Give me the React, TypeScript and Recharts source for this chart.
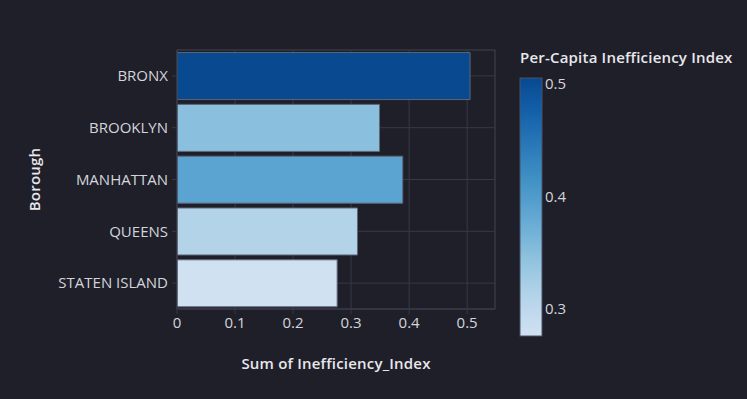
import { BarChart, Bar, XAxis, YAxis, CartesianGrid, Cell, ReferenceArea } from "recharts";

const boroughs = ["BRONX", "BROOKLYN", "MANHATTAN", "QUEENS", "STATEN ISLAND"];
const inefficiency = [0.505, 0.349, 0.389, 0.311, 0.276];
const xTicks = [0, 0.1, 0.2, 0.3, 0.4, 0.5];
const colorbarTicks = [0.3, 0.4, 0.5];

const data = boroughs.map((borough, i) => ({ borough, value: inefficiency[i] }));

// plotly "Blues" sequential scale
const blues = [
  [247, 251, 255],
  [222, 235, 247],
  [198, 219, 239],
  [158, 202, 225],
  [107, 174, 214],
  [66, 146, 198],
  [33, 113, 181],
  [8, 81, 156],
  [8, 48, 107],
];

const cmin = Math.min(...inefficiency);
const cmax = Math.max(...inefficiency);

function blueAt(t: number) {
  const p = Math.max(0, Math.min(1, t)) * (blues.length - 1);
  const i = Math.min(Math.floor(p), blues.length - 2);
  const f = p - i;
  const c = blues[i].map((v, k) => Math.round(v + (blues[i + 1][k] - v) * f));
  return `rgb(${c[0]},${c[1]},${c[2]})`;
}

// the scale used in the picture only covers part of Blues
function colorFor(v: number) {
  const t = (v - cmin) / (cmax - cmin);
  return blueAt(0.2 + t * 0.706);
}

const BG = "#1f1f29";
const GRID = "#383847";
const TEXT = "#d4d5dc";
const TITLE = "#e8e8ec";
const FONT = "'Open Sans', sans-serif";

const tickStyle = { fill: TEXT, fontSize: 15, fontWeight: 500, fontFamily: FONT };

const CB = { x: 520, top: 78, bottom: 336, width: 22 };

function Colorbar() {
  const yFor = (v: number) => CB.bottom - ((v - cmin) / (cmax - cmin)) * (CB.bottom - CB.top);
  const stops = Array.from({ length: 11 }, (_, i) => i / 10);
  return (
    <svg width={747} height={399} style={{ position: "absolute", left: 0, top: 0, pointerEvents: "none" }}>
      <defs>
        <linearGradient id="cbGrad" x1="0" y1="1" x2="0" y2="0">
          {stops.map((s) => (
            <stop key={s} offset={`${s * 100}%`} stopColor={colorFor(cmin + s * (cmax - cmin))} />
          ))}
        </linearGradient>
      </defs>
      <text
        x={CB.x}
        y={63}
        fill={TITLE}
        fontSize={15}
        fontWeight={600}
        letterSpacing={0.2}
        fontFamily={FONT}
      >
        Per-Capita Inefficiency Index
      </text>
      <rect
        x={CB.x}
        y={CB.top}
        width={CB.width}
        height={CB.bottom - CB.top}
        fill="url(#cbGrad)"
        stroke="#4a5264"
        strokeWidth={1}
      />
      {colorbarTicks.map((t) => (
        <text key={t} x={CB.x + CB.width + 3} y={yFor(t)} dy="0.35em" {...tickStyle}>
          {t}
        </text>
      ))}
    </svg>
  );
}

export default function App() {
  return (
    <div style={{ position: "relative", width: 747, height: 399, background: BG }}>
      <style>{`body{margin:0;background:${BG};}`}</style>
      <BarChart
        width={747}
        height={399}
        data={data}
        layout="vertical"
        margin={{ top: 50, right: 252, bottom: 30, left: 0 }}
        barCategoryGap="5%"
      >
        <CartesianGrid stroke={GRID} strokeWidth={1} />
        <XAxis
          type="number"
          dataKey="value"
          domain={[0, 0.548]}
          ticks={xTicks}
          allowDataOverflow
          height={60}
          tick={tickStyle}
          tickLine={{ stroke: GRID }}
          tickSize={5}
          tickMargin={3}
          axisLine={{ stroke: GRID }}
          label={{
            value: "Sum of Inefficiency_Index",
            position: "insideBottom",
            offset: 0,
            fill: TITLE,
            fontSize: 15,
            fontWeight: 600,
            letterSpacing: 0.2,
            fontFamily: FONT,
          }}
        />
        <YAxis
          type="category"
          dataKey="borough"
          width={177}
          tick={tickStyle}
          tickLine={{ stroke: GRID }}
          tickSize={5}
          tickMargin={4}
          axisLine={{ stroke: GRID }}
          label={(props: any) => {
            const vb = props.viewBox || {};
            const cx = 40;
            const cy = (vb.y ?? 50) + (vb.height ?? 260) / 2;
            return (
              <text
                x={cx}
                y={cy}
                transform={`rotate(-90 ${cx} ${cy})`}
                textAnchor="middle"
                fill={TITLE}
                fontSize={15}
                fontWeight={600}
                letterSpacing={0.2}
                fontFamily={FONT}
              >
                Borough
              </text>
            );
          }}
        />
        <ReferenceArea x1={0} x2={0.548} fill="none" stroke={GRID} strokeWidth={1} ifOverflow="visible" />
        <Bar dataKey="value" stroke="#5d6878" strokeWidth={1} isAnimationActive={false}>
          {data.map((d) => (
            <Cell key={d.borough} fill={colorFor(d.value)} />
          ))}
        </Bar>
      </BarChart>
      <Colorbar />
    </div>
  );
}
